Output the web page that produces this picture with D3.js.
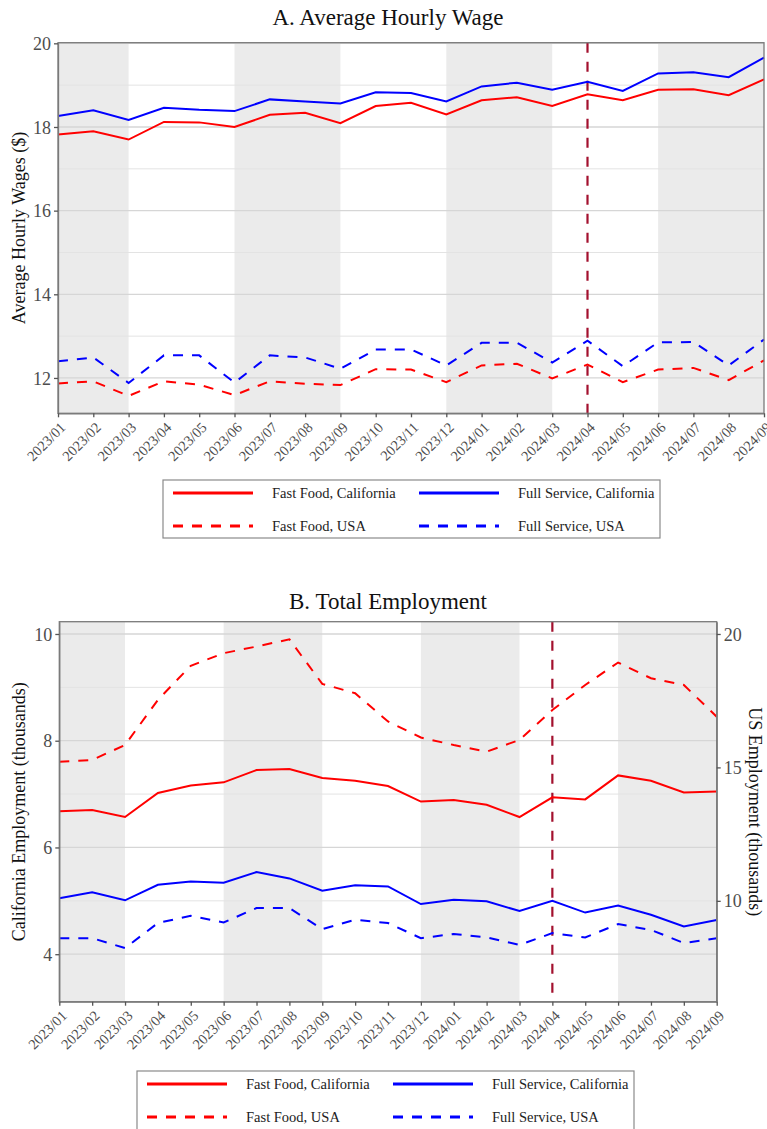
<!DOCTYPE html>
<html>
<head>
<meta charset="utf-8">
<script src="https://cdn.jsdelivr.net/npm/d3@7"></script>
<style>
  body { margin: 0; background: #fff; }
  text { font-family: "Liberation Serif", "Times New Roman", serif; }
</style>
</head>
<body>
<div id="chart"></div>
<script>
// months on the x axis
var months = ["2023/01","2023/02","2023/03","2023/04","2023/05","2023/06","2023/07",
  "2023/08","2023/09","2023/10","2023/11","2023/12","2024/01","2024/02","2024/03",
  "2024/04","2024/05","2024/06","2024/07","2024/08","2024/09"];

// shaded bands (start month, end month)
var bands = [["2023/01","2023/03"],["2023/06","2023/09"],["2023/12","2024/03"],["2024/06","2024/09"]];
var policyMonth = "2024/04";

// Panel A: average hourly wage ($)
var wageFastCA = [17.82,17.90,17.70,18.12,18.11,18.00,18.29,18.34,18.09,18.50,18.58,18.30,18.64,18.71,18.50,18.78,18.64,18.89,18.90,18.76,19.14];
var wageFullCA = [18.26,18.40,18.17,18.46,18.41,18.38,18.66,18.61,18.56,18.83,18.81,18.61,18.97,19.06,18.89,19.08,18.86,19.28,19.31,19.19,19.66];
var wageFastUS = [11.87,11.92,11.57,11.92,11.84,11.59,11.92,11.86,11.83,12.21,12.20,11.90,12.30,12.34,11.99,12.32,11.90,12.20,12.24,11.95,12.42];
var wageFullUS = [12.40,12.49,11.88,12.54,12.54,11.89,12.54,12.49,12.22,12.68,12.68,12.30,12.84,12.84,12.37,12.89,12.28,12.85,12.86,12.30,12.92];

// Panel B: employment (thousands), CA on left axis, US on right axis
var empFastCA = [6.68,6.70,6.57,7.02,7.16,7.22,7.45,7.47,7.30,7.25,7.15,6.86,6.89,6.80,6.57,6.94,6.90,7.35,7.25,7.03,7.05];
var empFullCA = [5.05,5.16,5.01,5.30,5.36,5.34,5.54,5.42,5.19,5.29,5.27,4.94,5.02,4.99,4.81,5.00,4.78,4.91,4.74,4.52,4.64];
var empFastUS = [15.21,15.28,15.84,17.53,18.81,19.28,19.53,19.80,18.13,17.78,16.72,16.12,15.84,15.59,16.03,17.15,18.09,18.93,18.34,18.09,16.90];
var empFullUS = [8.60,8.60,8.23,9.17,9.44,9.19,9.73,9.73,8.94,9.29,9.17,8.60,8.76,8.63,8.35,8.79,8.63,9.13,8.91,8.42,8.60];

// tick values
var wageTicks = [12,14,16,18,20], wageMinor = [13,15,17,19];
var caTicks = [4,6,8,10], caMinor = [5,7,9];
var usTicks = [10,15,20];

var legendLabels = ["Fast Food, California","Full Service, California","Fast Food, USA","Full Service, USA"];

var RED = "#ff0000", BLUE = "#0000ff", DASH = "10,9";

var width = 767, height = 1129;
var svg = d3.select("#chart").append("svg")
    .attr("width", width)
    .attr("height", height);

function drawPanel(cfg) {
  var g = svg.append("g");
  var x = d3.scalePoint().domain(months).range([cfg.left, cfg.right]);
  var y = d3.scaleLinear().domain(cfg.yDomain).range([cfg.bottom, cfg.top]);

  // background bands
  g.selectAll(".band").data(bands).enter().append("rect")
    .attr("x", d => x(d[0]))
    .attr("width", d => x(d[1]) - x(d[0]))
    .attr("y", cfg.top)
    .attr("height", cfg.bottom - cfg.top)
    .attr("fill", "#ebebeb");

  // grid
  g.selectAll(".minor").data(cfg.minor).enter().append("line")
    .attr("x1", cfg.left).attr("x2", cfg.right)
    .attr("y1", d => y(d)).attr("y2", d => y(d))
    .attr("stroke", "#e3e3e3").attr("stroke-width", 1);
  g.selectAll(".major").data(cfg.ticks).enter().append("line")
    .attr("x1", cfg.left).attr("x2", cfg.right)
    .attr("y1", d => y(d)).attr("y2", d => y(d))
    .attr("stroke", "#d6d6d6").attr("stroke-width", 1.3);

  // policy line
  g.append("line")
    .attr("x1", x(policyMonth)).attr("x2", x(policyMonth))
    .attr("y1", cfg.top).attr("y2", cfg.bottom)
    .attr("stroke", "#a3102e").attr("stroke-width", 2.2)
    .attr("stroke-dasharray", "10,9");

  // series
  cfg.series.forEach(function(s) {
    var ys = s.scale || y;
    var line = d3.line().x((d, i) => x(months[i])).y(d => ys(d));
    g.append("path")
      .datum(s.values)
      .attr("d", line)
      .attr("fill", "none")
      .attr("stroke", s.color)
      .attr("stroke-width", 2)
      .attr("stroke-dasharray", s.dash ? DASH : null);
  });

  // frame
  g.append("rect")
    .attr("x", cfg.left).attr("y", cfg.top)
    .attr("width", cfg.right - cfg.left).attr("height", cfg.bottom - cfg.top)
    .attr("fill", "none").attr("stroke", "#7a7a7a").attr("stroke-width", 1.3);

  // axes
  var yAxis = g.append("g")
    .attr("transform", "translate(" + cfg.left + ",0)")
    .call(d3.axisLeft(y).tickValues(cfg.ticks).tickSize(4).tickSizeOuter(0).tickPadding(3));
  styleAxis(yAxis);
  yAxis.selectAll("text").attr("font-size", 18).attr("dy", "0.34em");

  var xAxis = g.append("g")
    .attr("transform", "translate(0," + cfg.bottom + ")")
    .call(d3.axisBottom(x).tickSize(4).tickSizeOuter(0));
  styleAxis(xAxis);
  xAxis.selectAll("text")
    .attr("font-size", 14.5)
    .attr("x", 0).attr("y", 0).attr("dy", null)
    .attr("text-anchor", "end")
    .attr("transform", "translate(8,15) rotate(-45)");

  if (cfg.rightScale) {
    var rAxis = g.append("g")
      .attr("transform", "translate(" + cfg.right + ",0)")
      .call(d3.axisRight(cfg.rightScale).tickValues(usTicks).tickSize(4).tickSizeOuter(0).tickPadding(3));
    styleAxis(rAxis);
    rAxis.selectAll("text").attr("font-size", 18).attr("dy", "0.34em");
    svg.append("text")
      .attr("transform", "translate(755," + (cfg.top + cfg.bottom) / 2 + ") rotate(90)")
      .attr("text-anchor", "middle")
      .attr("dy", "0.35em")
      .attr("font-size", 18)
      .attr("fill", "#111")
      .text(cfg.rightLabel);
  }

  // titles
  svg.append("text")
    .attr("x", 388).attr("y", cfg.titleY)
    .attr("text-anchor", "middle")
    .attr("font-size", 23)
    .attr("fill", "#111")
    .text(cfg.title);
  svg.append("text")
    .attr("transform", "translate(19," + (cfg.top + cfg.bottom) / 2 + ") rotate(-90)")
    .attr("text-anchor", "middle")
    .attr("dy", "0.35em")
    .attr("font-size", 18)
    .attr("fill", "#111")
    .text(cfg.yLabel);

  drawLegend(cfg.legendLeft, cfg.legendTop, cfg.legendH);
}

function styleAxis(a) {
  a.select(".domain").attr("stroke", "#7a7a7a").attr("stroke-width", 1.3);
  a.selectAll(".tick line").attr("stroke", "#555").attr("stroke-width", 1.3);
  a.selectAll("text").attr("fill", "#4d4d4d").attr("font-family", "Liberation Serif, serif");
}

function drawLegend(left, top, h) {
  var lg = svg.append("g").attr("transform", "translate(" + left + "," + top + ")");
  lg.append("rect")
    .attr("x", 0).attr("y", 0).attr("width", 497).attr("height", h)
    .attr("fill", "#fff").attr("stroke", "#8a8a8a").attr("stroke-width", 1.2);
  var colors = [RED, BLUE, RED, BLUE];
  legendLabels.forEach(function(lab, i) {
    var col = i % 2, row = Math.floor(i / 2);
    var lx = col === 0 ? 10 : 256;
    var ly = 13 + row * 33;
    lg.append("line")
      .attr("x1", lx).attr("x2", lx + 80)
      .attr("y1", ly).attr("y2", ly)
      .attr("stroke", colors[i]).attr("stroke-width", 3)
      .attr("stroke-dasharray", row === 1 ? DASH : null);
    lg.append("text")
      .attr("x", lx + 99).attr("y", ly)
      .attr("dy", "0.35em")
      .attr("font-size", 14.5)
      .attr("fill", "#222")
      .text(lab);
  });
}

// Panel A
drawPanel({
  left: 58, right: 764, top: 42.7, bottom: 413.3,
  yDomain: [11.155, 20.015],
  ticks: wageTicks, minor: wageMinor,
  title: "A. Average Hourly Wage", titleY: 25,
  yLabel: "Average Hourly Wages ($)",
  legendLeft: 163, legendTop: 480, legendH: 58,
  series: [
    {values: wageFastCA, color: RED},
    {values: wageFullCA, color: BLUE},
    {values: wageFastUS, color: RED, dash: true},
    {values: wageFullUS, color: BLUE, dash: true}
  ]
});

// Panel B (right axis = US employment)
var caDomain = [3.11, 10.23];
var usScale = d3.scaleLinear().domain(caDomain.map(d => d * 2)).range([1001.7, 621.7]);
drawPanel({
  left: 59.3, right: 716.7, top: 621.7, bottom: 1001.7,
  yDomain: caDomain,
  ticks: caTicks, minor: caMinor,
  rightScale: usScale,
  rightLabel: "US Employment (thousands)",
  title: "B. Total Employment", titleY: 609,
  yLabel: "California Employment (thousands)",
  legendLeft: 137, legendTop: 1071, legendH: 70,
  series: [
    {values: empFastCA, color: RED},
    {values: empFullCA, color: BLUE},
    {values: empFastUS, color: RED, dash: true, scale: usScale},
    {values: empFullUS, color: BLUE, dash: true, scale: usScale}
  ]
});
</script>
</body>
</html>
